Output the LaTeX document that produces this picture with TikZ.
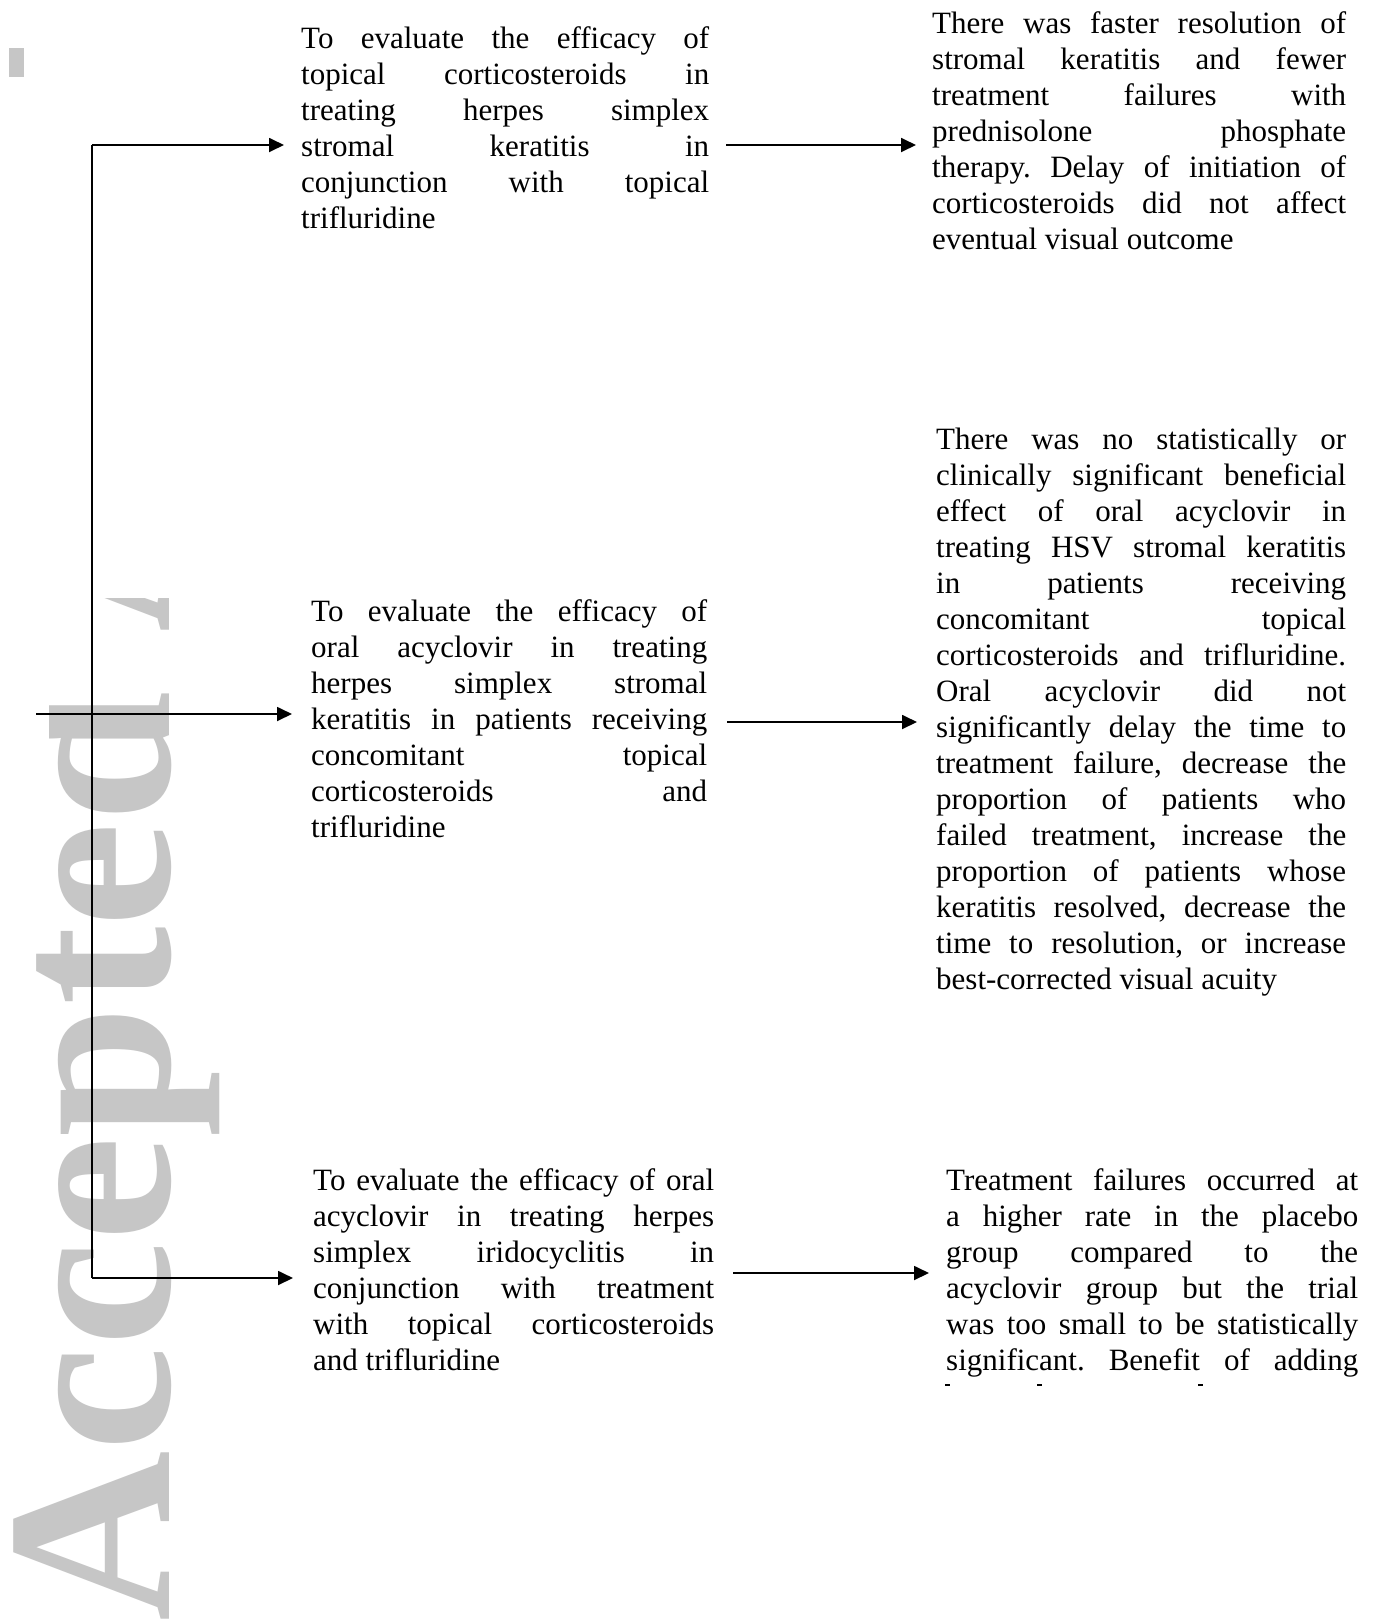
\documentclass[tikz,border=0pt]{standalone}
\usepackage{fontspec}
\setmainfont{Liberation Serif}
\newfontfamily\wmfont{Liberation Serif}
\usetikzlibrary{arrows.meta}
\definecolor{wmgray}{RGB}{198,198,198}
\frenchspacing
\newcommand\JL[1]{\hbox to\hsize{#1}}
\newcommand\LL[1]{\hbox{#1}}
\newcommand\TBox[2]{\vtop{\hsize=#1\relax\baselineskip=36pt\lineskiplimit=-100pt\lineskip=0pt #2}}
\tikzset{
  txt/.style={anchor=base west, inner sep=0pt, font=\fontsize{31}{36}\selectfont},
  wm/.style={anchor=base west, rotate=90, inner sep=0pt, text=wmgray, font=\wmfont\bfseries\fontsize{236}{236}\selectfont},
  trunkline/.style={line width=1.8pt},
  conn/.style={line width=1.8pt, -{Triangle[length=15pt,width=14pt]}}
}
\begin{document}
\begin{tikzpicture}[x=1pt,y=-1pt]
\useasboundingbox (0,0) rectangle (1380,1623);
\fill[white] (0,0) rectangle (1380,1623);
% watermark
\begin{scope}
\clip (49,598) rectangle (240,1623) (0,812) rectangle (240,1623);
\node[wm] (wmark) at (169,1622) {Accepted Article};
\end{scope}
\fill[wmgray] (9,48) rectangle (24,77);
% left column
\node[txt] (b1) at (301,48) {\TBox{408pt}{%
\JL{To evaluate the efficacy of}
\JL{topical corticosteroids in}
\JL{treating herpes simplex}
\JL{stromal keratitis in}
\JL{conjunction with topical}
\LL{trifluridine}}};
\node[txt] (b2) at (311,621) {\TBox{396pt}{%
\JL{To evaluate the efficacy of}
\JL{oral acyclovir in treating}
\JL{herpes simplex stromal}
\JL{keratitis in patients receiving}
\JL{concomitant topical}
\JL{corticosteroids and}
\LL{trifluridine}}};
\node[txt] (b3) at (313,1190) {\TBox{401pt}{%
\JL{To evaluate the efficacy of oral}
\JL{acyclovir in treating herpes}
\JL{simplex iridocyclitis in}
\JL{conjunction with treatment}
\JL{with topical corticosteroids}
\LL{and trifluridine}}};
% right column
\node[txt] (r1) at (932,33) {\TBox{414pt}{%
\JL{There was faster resolution of}
\JL{stromal keratitis and fewer}
\JL{treatment failures with}
\JL{prednisolone phosphate}
\JL{therapy. Delay of initiation of}
\JL{corticosteroids did not affect}
\LL{eventual visual outcome}}};
\node[txt] (r2) at (936,449) {\TBox{410pt}{%
\JL{There was no statistically or}
\JL{clinically significant beneficial}
\JL{effect of oral acyclovir in}
\JL{treating HSV stromal keratitis}
\JL{in patients receiving}
\JL{concomitant topical}
\JL{corticosteroids and trifluridine.}
\JL{Oral acyclovir did not}
\JL{significantly delay the time to}
\JL{treatment failure, decrease the}
\JL{proportion of patients who}
\JL{failed treatment, increase the}
\JL{proportion of patients whose}
\JL{keratitis resolved, decrease the}
\JL{time to resolution, or increase}
\LL{best-corrected visual acuity}}};
\node[txt] (r3) at (946,1190) {\TBox{412pt}{%
\JL{Treatment failures occurred at}
\JL{a higher rate in the placebo}
\JL{group compared to the}
\JL{acyclovir group but the trial}
\JL{was too small to be statistically}
\JL{significant. Benefit of adding}}};
% clipped tops of the next (cut-off) line
\fill (945,1384) rectangle (950,1386);
\fill (1037,1384) rectangle (1042,1386);
\fill (1198,1384) rectangle (1203,1386);
% connectors
\coordinate (trT) at (92,145);
\coordinate (trB) at (92,1278);
\coordinate (midS) at (36,714);
\coordinate (b1in) at (284,145);
\coordinate (b2in) at (292,714);
\coordinate (b3in) at (293,1278);
\coordinate (b1out) at (726,145);
\coordinate (b2out) at (727,722);
\coordinate (b3out) at (733,1273);
\coordinate (r1in) at (916,145);
\coordinate (r2in) at (917,722);
\coordinate (r3in) at (929,1273);
\draw[trunkline] (trT) -- (trB);
\draw[conn] (trT) -- (b1in);
\draw[conn] (midS) -- (b2in);
\draw[conn] (trB) -- (b3in);
\draw[conn] (b1out) -- (r1in);
\draw[conn] (b2out) -- (r2in);
\draw[conn] (b3out) -- (r3in);
\end{tikzpicture}
\end{document}
